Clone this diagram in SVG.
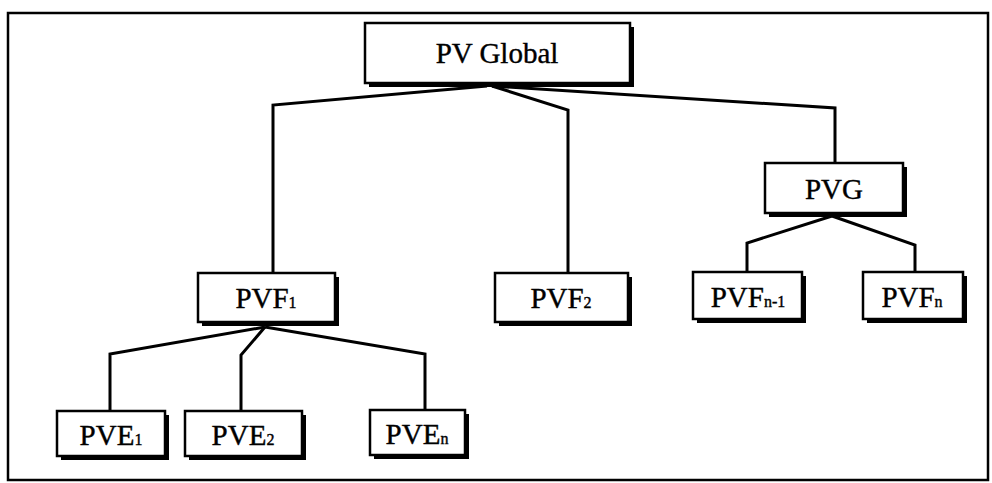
<svg xmlns="http://www.w3.org/2000/svg" width="992" height="483" viewBox="0 0 992 483">
<style>
.frame{fill:none;stroke:#000;stroke-width:2.5}
.box{fill:#fff;stroke:#000;stroke-width:2.5}
.shadow{fill:#000}
.lbl{font-family:"Liberation Serif","Times New Roman",serif;font-size:29px;fill:#000;stroke:#000;stroke-width:0.4;text-anchor:middle}
.sub{font-size:16px}
.conn{fill:none;stroke:#000;stroke-width:3;stroke-linejoin:miter}
</style>
<rect width="992" height="483" fill="#fff"/>
<rect class="frame" x="8" y="13" width="980" height="467"/>
<g id="connectors">
<polyline class="conn" points="487,86 273,105 273,273"/>
<polyline class="conn" points="492,86 568,110 568,273"/>
<polyline class="conn" points="492,86 835,108 835,163"/>
<polyline class="conn" points="832,216 747,243 747,272"/>
<polyline class="conn" points="832,216 915,245 915,272"/>
<polyline class="conn" points="265,327 110,354 110,411"/>
<polyline class="conn" points="265,327 241,355 241,411"/>
<polyline class="conn" points="265,327 425,354 425,410"/>
</g>
<g id="pv-global">
<rect class="shadow" x="369" y="27" width="265" height="60"/>
<rect class="box" x="365" y="23" width="265" height="60"/>
<text class="lbl" x="497" y="63">PV Global</text>
</g>
<g id="pvg">
<rect class="shadow" x="769" y="167" width="138" height="50"/>
<rect class="box" x="765" y="163" width="138" height="50"/>
<text class="lbl" x="834" y="199">PVG</text>
</g>
<g id="pvf1">
<rect class="shadow" x="202" y="277" width="137" height="49"/>
<rect class="box" x="198" y="273" width="137" height="49"/>
<text class="lbl" x="266" y="308">PVF<tspan class="sub">1</tspan></text>
</g>
<g id="pvf2">
<rect class="shadow" x="499" y="277" width="133" height="49"/>
<rect class="box" x="495" y="273" width="133" height="49"/>
<text class="lbl" x="561" y="308">PVF<tspan class="sub">2</tspan></text>
</g>
<g id="pvfn-1">
<rect class="shadow" x="697" y="276" width="109" height="47"/>
<rect class="box" x="693" y="272" width="109" height="47"/>
<text class="lbl" x="748" y="307">PVF<tspan class="sub">n-1</tspan></text>
</g>
<g id="pvfn">
<rect class="shadow" x="867" y="276" width="100" height="47"/>
<rect class="box" x="863" y="272" width="100" height="47"/>
<text class="lbl" x="912" y="307">PVF<tspan class="sub">n</tspan></text>
</g>
<g id="pve1">
<rect class="shadow" x="61" y="415" width="108" height="45"/>
<rect class="box" x="57" y="411" width="108" height="45"/>
<text class="lbl" x="111" y="445">PVE<tspan class="sub">1</tspan></text>
</g>
<g id="pve2">
<rect class="shadow" x="189" y="415" width="117" height="45"/>
<rect class="box" x="185" y="411" width="117" height="45"/>
<text class="lbl" x="243" y="445">PVE<tspan class="sub">2</tspan></text>
</g>
<g id="pven">
<rect class="shadow" x="374" y="414" width="95" height="45"/>
<rect class="box" x="370" y="410" width="95" height="45"/>
<text class="lbl" x="417" y="444">PVE<tspan class="sub">n</tspan></text>
</g>
</svg>
